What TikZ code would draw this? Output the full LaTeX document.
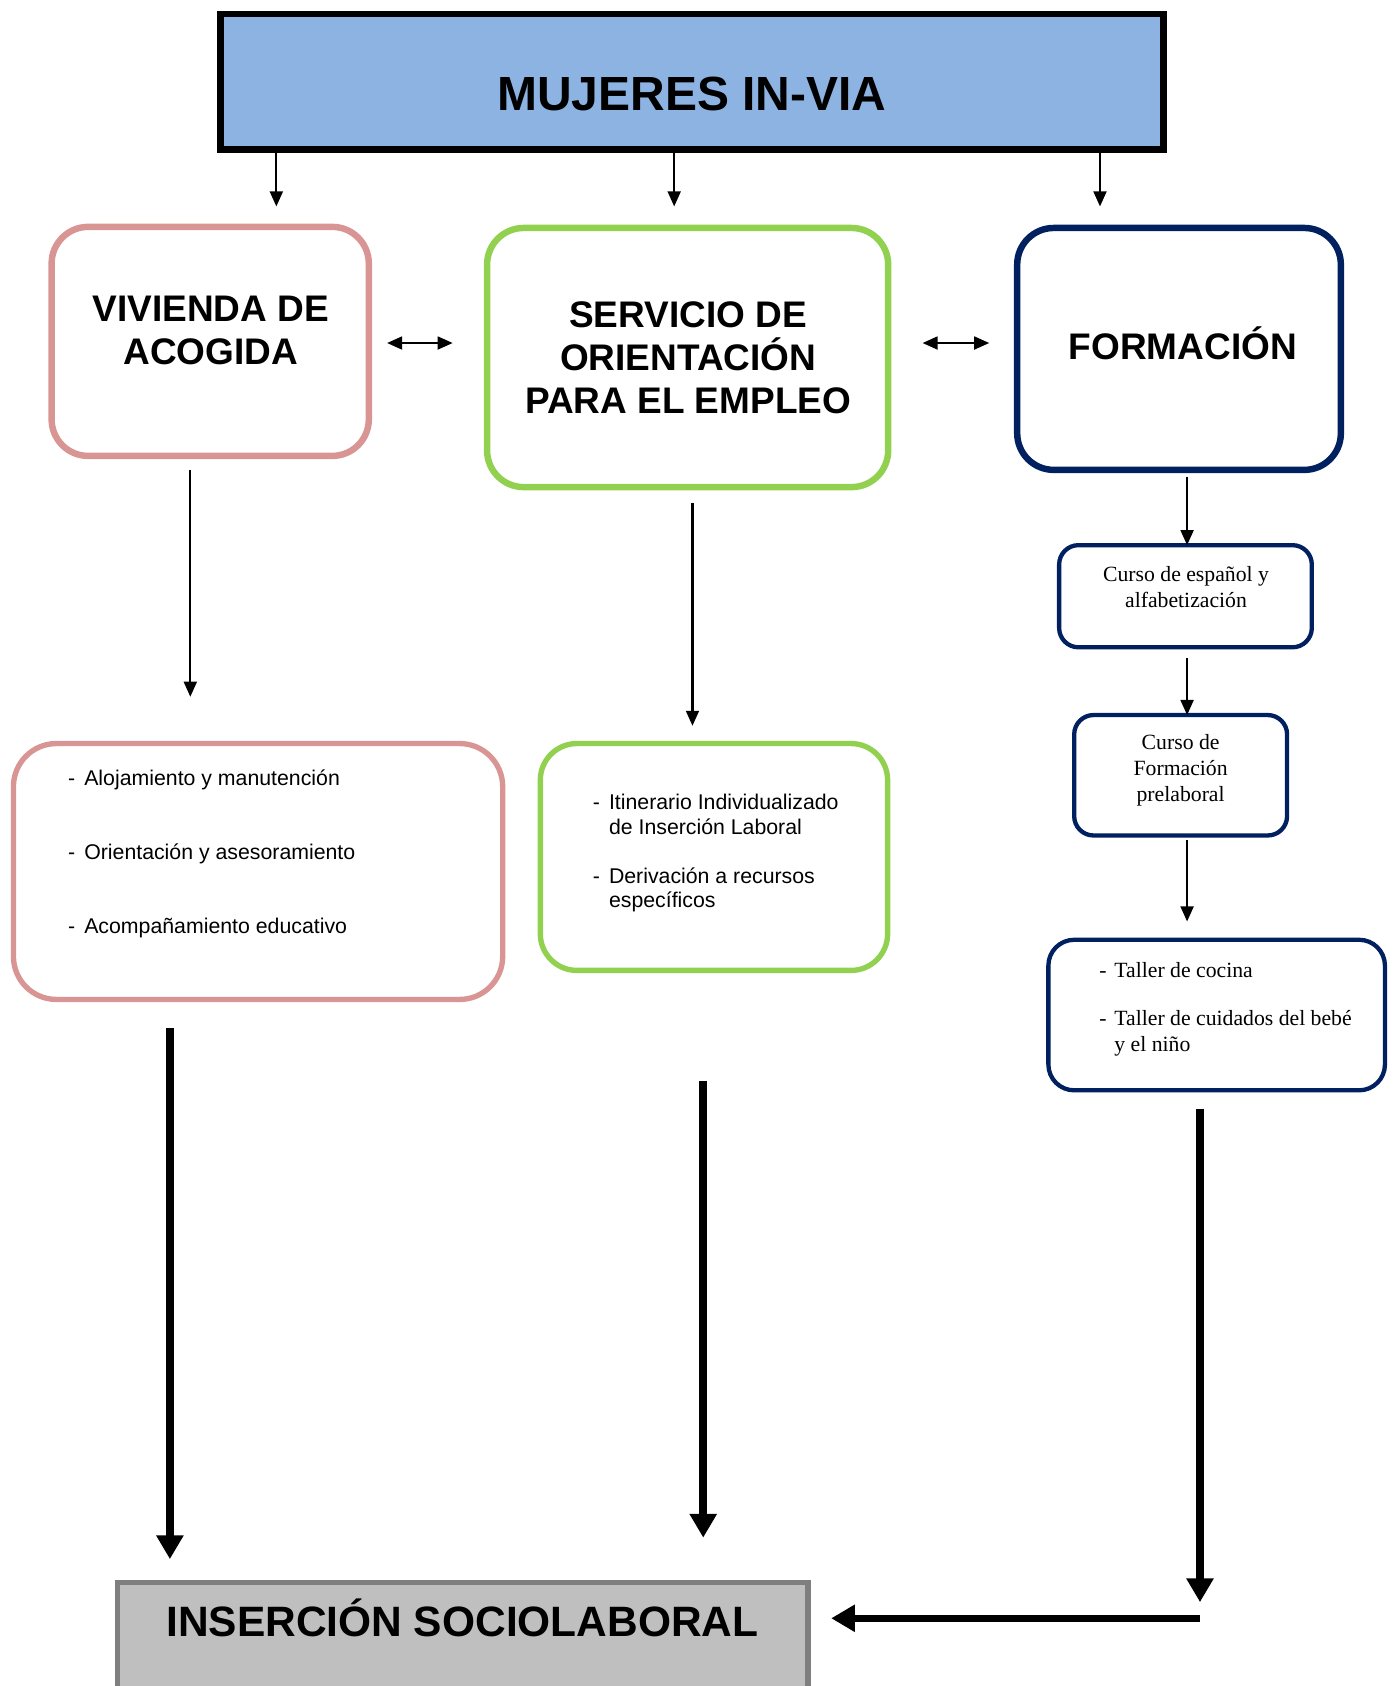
\documentclass[tikz,border=0pt]{standalone}
\usepackage{fontspec}
\setmainfont{Liberation Serif}
\newfontfamily\arialf{Liberation Sans}
\usetikzlibrary{arrows.meta}
\definecolor{topblue}{HTML}{8DB3E2}
\definecolor{pinkc}{HTML}{D99594}
\definecolor{greenc}{HTML}{92D050}
\definecolor{navyc}{HTML}{002060}
\definecolor{grayfill}{HTML}{BFBFBF}
\definecolor{grayline}{HTML}{7F7F7F}
\begin{document}
\begin{tikzpicture}[x=0.5pt,y=-0.5pt,
  box/.style={draw, inner sep=0pt, outer sep=0pt},
  bigbox/.style={box, line width=3pt, rounded corners=17pt},
  listbox/.style={box, line width=2.5pt, rounded corners=20pt},
  smallbox/.style={box, draw=navyc, line width=2pt, rounded corners=9pt},
  thinarr/.style={line width=1pt, -{Triangle[length=7pt,width=6pt]}},
  dblarr/.style={line width=1pt, {Triangle[length=7pt,width=6pt]}-{Triangle[length=7pt,width=6pt]}},
  thickarr/.style={line width=3.5pt, -{Triangle[length=11pt,width=12pt]}},
  head/.style={font=\arialf\bfseries\fontsize{17.2}{20}\selectfont, align=center, inner sep=0pt},
  serif/.style={font=\fontsize{10.1}{12}\selectfont, align=center, inner sep=0pt},
  sanslist/.style={font=\arialf\fontsize{9.9}{11.5}\selectfont, align=left, inner sep=0pt, anchor=north west},
  seriflist/.style={font=\fontsize{10.1}{12}\selectfont, align=left, inner sep=0pt, anchor=north west}
]
\useasboundingbox (0,0) rectangle (1297.4,1568);

% top box
\node[box, line width=3pt, fill=topblue, minimum width=438.5pt, minimum height=63pt] (top) at (643.5,76) {};
\node[font=\arialf\bfseries\fontsize{22.3}{26}\selectfont, inner sep=0pt] (toptext) at (643.5,87) {MUJERES IN-VIA};

% three main boxes
\node[bigbox, draw=pinkc, minimum width=147.5pt, minimum height=106.5pt] (viv) at (195.5,317.5) {};
\node[head] (vivt) at (196,307) {VIVIENDA DE\\ACOGIDA};

\node[bigbox, draw=greenc, minimum width=186.5pt, minimum height=120.5pt] (ser) at (639.5,332.5) {};
\node[head] (sert) at (640,333) {SERVICIO DE\\ORIENTACIÓN\\PARA EL EMPLEO};

\node[bigbox, draw=navyc, minimum width=150.5pt, minimum height=112.5pt] (form) at (1096.5,324.5) {};
\node[head] (formt) at (1100,319) {FORMACIÓN};

% formation sub-boxes
\node[smallbox, minimum width=117.5pt, minimum height=47.5pt] (c1) at (1102.5,554.5) {};
\node[serif] (c1t) at (1103,546) {Curso de español y\\alfabetización};

\node[smallbox, minimum width=99pt, minimum height=56pt] (c2) at (1098,721) {};
\node[serif] (c2t) at (1098,716.5) {Curso de\\Formación\\prelaboral};

\node[smallbox, rounded corners=12pt, minimum width=156.5pt, minimum height=70pt] (c3) at (1131.5,944) {};
\node[seriflist] (c3t) at (1022,894.5) {\makebox[7pt][l]{-}Taller de cocina\\[10.5pt]
\makebox[7pt][l]{-}Taller de cuidados del bebé\\
\hspace*{7pt}y el niño};

% list boxes
\node[listbox, draw=pinkc, minimum width=227.5pt, minimum height=119pt] (plist) at (240,810.5) {};
\node[sanslist] (plistt) at (63,715.5) {\makebox[7.5pt][l]{-}Alojamiento y manutención\\[23pt]
\makebox[7.5pt][l]{-}Orientación y asesoramiento\\[23pt]
\makebox[7.5pt][l]{-}Acompañamiento educativo};

\node[listbox, draw=greenc, rounded corners=17pt, minimum width=161.5pt, minimum height=105.5pt] (glist) at (664,797) {};
\node[sanslist] (glistt) at (551,738.5) {\makebox[7.5pt][l]{-}Itinerario Individualizado\\
\hspace*{7.5pt}de Inserción Laboral\\[11pt]
\makebox[7.5pt][l]{-}Derivación a recursos\\
\hspace*{7.5pt}específicos};

% bottom box
\node[box, line width=2.5pt, draw=grayline, fill=grayfill, minimum width=321pt, minimum height=64.25pt] (ins) at (430.5,1535.75) {};
\node[font=\arialf\bfseries\fontsize{19.75}{23}\selectfont, inner sep=0pt] (inst) at (430,1505) {INSERCIÓN SOCIOLABORAL};

% coordinates
\coordinate (a1) at (257,192);
\coordinate (a2) at (627,192);
\coordinate (a3) at (1023,192);
\coordinate (d1a) at (360,319);
\coordinate (d1b) at (421,319);
\coordinate (d2a) at (858,319);
\coordinate (d2b) at (920,319);
\coordinate (v1) at (177,437);
\coordinate (v2) at (177,648);
\coordinate (s1) at (644,468);
\coordinate (s2) at (644,675);
\coordinate (f1) at (1104,444);
\coordinate (f2) at (1104,612);
\coordinate (f3) at (1104,781);
\coordinate (f4) at (1104,857);
\coordinate (t1a) at (158,956);
\coordinate (t1b) at (158,1450);
\coordinate (t2a) at (654,1005);
\coordinate (t2b) at (654,1430);
\coordinate (t3a) at (1116,1031);
\coordinate (t3b) at (1116,1490);
\coordinate (h1) at (1116,1505);
\coordinate (h2) at (773,1505);

% connectors
\draw[thinarr] (top.south -| a1) -- (a1);
\draw[thinarr] (top.south -| a2) -- (a2);
\draw[thinarr] (top.south -| a3) -- (a3);
\draw[dblarr] (d1a) -- (d1b);
\draw[dblarr] (d2a) -- (d2b);
\draw[thinarr] (v1) -- (v2);
\draw[thinarr] (s1) -- (s2);
\draw[thinarr] (f1) -- (c1.north -| f1);
\draw[thinarr] (f2) -- (c2.north -| f2);
\draw[thinarr] (f3) -- (f4);
\draw[thickarr] (t1a) -- (t1b);
\draw[thickarr] (t2a) -- (t2b);
\draw[thickarr] (t3a) -- (t3b);
\draw[thickarr] (h1) -- (h2);
\end{tikzpicture}
\end{document}
